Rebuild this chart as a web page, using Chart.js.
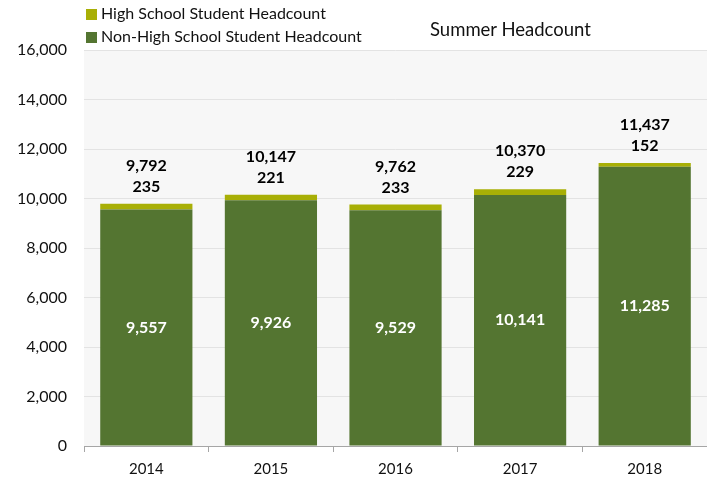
<!DOCTYPE html>
<html>
<head>
<meta charset="utf-8">
<script src="https://cdn.jsdelivr.net/npm/chart.js@4"></script>
<style>
  html, body { margin: 0; padding: 0; background: #fff; }
  #wrap { position: relative; width: 707px; height: 479px; font-family: Lato, "Open Sans", sans-serif; }
  #legend { position: absolute; left: 86px; top: 1px; font-size: 16px; color: #111; }
  #legend div { height: 23px; line-height: 23px; white-space: nowrap; }
  #legend span.box { display: inline-block; width: 11px; height: 11px; margin-right: 4px; vertical-align: -1px; }
  #title { position: absolute; left: 430px; top: 18px; font-size: 18.5px; color: #111; }
</style>
</head>
<body>
<div id="wrap">
  <canvas id="headcountChart" width="707" height="479"></canvas>
  <div id="legend"></div>
  <div id="title">Summer Headcount</div>
</div>
<script>
var years = ['2014', '2015', '2016', '2017', '2018'];
var nonHighSchool = [9557, 9926, 9529, 10141, 11285];
var highSchool = [235, 221, 233, 229, 152];
var totals = [9792, 10147, 9762, 10370, 11437];
var yTicks = [0, 2000, 4000, 6000, 8000, 10000, 12000, 14000, 16000];

var darkGreen = '#547531';
var lightGreen = '#A8AF06';

function fmt(v) {
    return v.toLocaleString('en-US');
}

// light grey plot background
var plotBackground = {
    id: 'plotBackground',
    beforeDraw: function (chart) {
        var a = chart.chartArea;
        var ctx = chart.ctx;
        ctx.save();
        ctx.fillStyle = '#F7F7F7';
        ctx.fillRect(a.left, a.top, a.right - a.left, a.bottom - a.top);
        ctx.restore();
    }
};

// value labels: inside the dark bars, above the light bars, totals on top
var valueLabels = {
    id: 'valueLabels',
    afterDatasetsDraw: function (chart) {
        var ctx = chart.ctx;
        var y = chart.scales.y;
        var base = chart.getDatasetMeta(0).data;
        var top = chart.getDatasetMeta(1).data;
        ctx.save();
        ctx.textAlign = 'center';
        ctx.textBaseline = 'middle';
        ctx.font = 'bold 16px Lato, "Open Sans", sans-serif';
        base.forEach(function (bar, i) {
            ctx.fillStyle = '#ffffff';
            ctx.fillText(fmt(nonHighSchool[i]), bar.x, (bar.y + bar.base) / 2);
            var t = y.getPixelForValue(totals[i]);
            ctx.fillStyle = '#000000';
            ctx.fillText(fmt(highSchool[i]), top[i].x, t - 17);
            ctx.fillText(fmt(totals[i]), top[i].x, t - 38);
        });
        ctx.restore();
    }
};

var ctx = document.getElementById('headcountChart').getContext('2d');
var chart = new Chart(ctx, {
    type: 'bar',
    data: {
        labels: years,
        datasets: [
            {
                label: 'Non-High School Student Headcount',
                data: nonHighSchool,
                backgroundColor: darkGreen,
                categoryPercentage: 0.74,
                barPercentage: 1
            },
            {
                label: 'High School Student Headcount',
                data: highSchool,
                backgroundColor: lightGreen,
                categoryPercentage: 0.74,
                barPercentage: 1
            }
        ]
    },
    options: {
        responsive: false,
        animation: false,
        layout: { padding: { top: 50, right: 0, left: 0, bottom: -7 } },
        plugins: {
            legend: { display: false },
            title: { display: false },
            tooltip: { enabled: false }
        },
        scales: {
            x: {
                stacked: true,
                grid: {
                    offset: true,
                    drawOnChartArea: false,
                    tickLength: 6,
                    color: '#A6A6A6'
                },
                border: { display: true, color: '#A6A6A6' },
                ticks: {
                    color: '#111',
                    font: { family: 'Lato, "Open Sans", sans-serif', size: 15 },
                    padding: 8
                }
            },
            y: {
                stacked: true,
                min: 0,
                max: 16000,
                afterBuildTicks: function (axis) {
                    axis.ticks = yTicks.map(function (v) { return { value: v }; });
                },
                grid: { color: '#E3E3E3', drawTicks: false },
                border: { display: false },
                ticks: {
                    color: '#111',
                    padding: 17,
                    font: { family: 'Lato, "Open Sans", sans-serif', size: 16 },
                    callback: function (v) { return fmt(v); }
                }
            }
        }
    },
    plugins: [plotBackground, valueLabels]
});

// legend, high school first as in the original
var legend = document.getElementById('legend');
[chart.data.datasets[1], chart.data.datasets[0]].forEach(function (ds) {
    var row = document.createElement('div');
    var box = document.createElement('span');
    box.className = 'box';
    box.style.background = ds.backgroundColor;
    row.appendChild(box);
    row.appendChild(document.createTextNode(ds.label));
    legend.appendChild(row);
});
</script>
</body>
</html>
